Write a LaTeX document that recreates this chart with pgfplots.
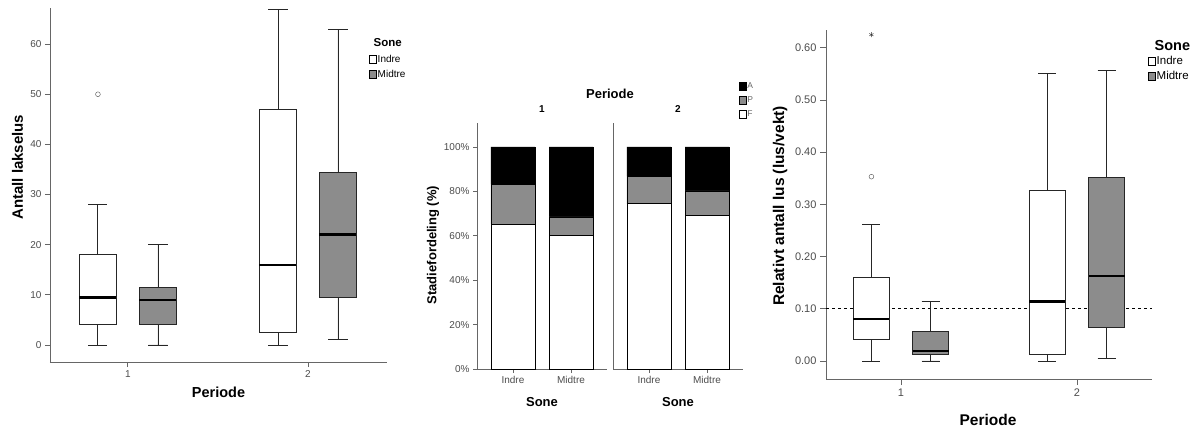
\documentclass[border=0pt]{standalone}
\usepackage{fontspec}
\setmainfont{Liberation Sans}
\usepackage{pgfplots}
\pgfplotsset{compat=1.18}
\usepgfplotslibrary{statistics}
\definecolor{boxgray}{gray}{0.55}
\definecolor{axgray}{gray}{0.4}
\pgfplotsset{
  spss/.style={
    scale only axis,
    axis lines=left,
    axis line style={-, draw=axgray, line width=0.9pt},
    tick align=outside,
    major tick length=5pt,
    every tick/.style={draw=axgray, line width=0.9pt},
    every tick label/.append style={text=black!70},
    /pgf/number format/assume math mode=true,
    clip=false,
    boxplot/draw direction=y,
  },
  bpw/.style={draw=black!85, line width=0.9pt, fill=white, solid,
     boxplot/draw direction=y,
     boxplot/every median/.style={draw=black, line width=2.4pt}},
  bpg/.style={bpw, fill=boxgray},
  legbox/.style={legend image code/.code={\draw[##1] (0pt,-4pt) rectangle (7pt,4pt);}},
}
\begin{document}
\begin{tikzpicture}
\path[use as bounding box] (0pt,0pt) rectangle (1203pt,-430pt);
% ---------------- Panel 1 ----------------
\begin{axis}[spss,
  at={(50pt,-362pt)}, anchor=south west,
  width=337pt, height=354pt,
  xmin=0.567, xmax=2.439, ymin=-3.4, ymax=67.2,
  xtick={1,2}, ytick={0,10,...,60},
  tick label style={font=\fontsize{10}{12}\selectfont},
  xlabel={Periode}, ylabel={Antall lakselus},
  xlabel style={at={(axis description cs:0.5,-0.085)}, anchor=center, font=\bfseries\fontsize{14.5}{16}\selectfont},
  ylabel style={at={(axis description cs:-0.0964,0.55)}, anchor=center, rotate=0, font=\bfseries\fontsize{15}{17}\selectfont},
  legend style={draw=none, fill=none, at={(axis description cs:0.947,0.916)}, anchor=north west,
    font=\fontsize{10}{12}\selectfont, inner sep=0pt, row sep=4.5pt, nodes={inner sep=1pt}},
  legend cell align=left,
]
\addlegendimage{empty legend}\addlegendentry{\hspace*{-4pt}\bfseries\fontsize{11.5}{13}\selectfont Sone\rule[-4pt]{0pt}{1pt}}
\addlegendimage{legbox, draw=black, fill=white}\addlegendentry{Indre}
\addlegendimage{legbox, draw=black, fill=boxgray}\addlegendentry{Midtre}
\addplot[bpw, boxplot prepared={draw position=0.8333, lower whisker=0, lower quartile=4, median=9.5, upper quartile=18, upper whisker=28, box extend=0.2056, whisker extend=0.106}] coordinates {};
\addplot[bpg, boxplot prepared={draw position=1.1667, lower whisker=0, lower quartile=4, median=9, upper quartile=11.5, upper whisker=20, box extend=0.2056, whisker extend=0.106}] coordinates {};
\addplot[bpw, boxplot prepared={draw position=1.8333, lower whisker=0, lower quartile=2.5, median=16, upper quartile=47, upper whisker=67, box extend=0.2056, whisker extend=0.106}] coordinates {};
\addplot[bpg, boxplot prepared={draw position=2.1667, lower whisker=1, lower quartile=9.5, median=22, upper quartile=34.5, upper whisker=63, box extend=0.2056, whisker extend=0.106}] coordinates {};
\addplot[only marks, mark=o, mark size=2.4pt, draw=black!70] coordinates {(0.8333,50)};
\end{axis}
% ---------------- Panel 2, facet 1 ----------------
\begin{axis}[spss,
  at={(477pt,-369pt)}, anchor=south west,
  width=130pt, height=246pt,
  ybar stacked, bar width=44pt,
  xmin=-0.62, xmax=1.62, ymin=0, ymax=110.8,
  xtick={0,1}, xticklabels={Indre,Midtre},
  ytick={0,20,40,60,80,100}, yticklabels={0\%,20\%,40\%,60\%,80\%,100\%},
  major tick length=4pt,
  tick label style={font=\fontsize{10}{12}\selectfont},
  xlabel={Sone}, ylabel={Stadiefordeling (\%)},
  xlabel style={at={(axis description cs:0.5,-0.134)}, anchor=center, font=\bfseries\fontsize{13}{15}\selectfont},
  ylabel style={at={(axis description cs:-0.338,0.504)}, anchor=center, font=\bfseries\fontsize{13}{15}\selectfont},
  title={1}, title style={at={(axis description cs:0.5,1.0325)}, anchor=center, font=\bfseries\fontsize{10}{12}\selectfont},
]
\addplot[fill=white, draw=black, line width=0.7pt] coordinates {(0,65.3) (1,60.0)};
\addplot[fill=boxgray, draw=black, line width=0.7pt] coordinates {(0,18.0) (1,8.5)};
\addplot[fill=black, draw=black, line width=0.7pt] coordinates {(0,16.7) (1,31.5)};
\end{axis}
% ---------------- Panel 2, facet 2 ----------------
\begin{axis}[spss,
  at={(613pt,-369pt)}, anchor=south west,
  width=130pt, height=246pt,
  ybar stacked, bar width=44pt,
  xmin=-0.62, xmax=1.62, ymin=0, ymax=110.8,
  xtick={0,1}, xticklabels={Indre,Midtre},
  ytick=\empty,
  major tick length=4pt,
  tick label style={font=\fontsize{10}{12}\selectfont},
  xlabel={Sone},
  xlabel style={at={(axis description cs:0.5,-0.134)}, anchor=center, font=\bfseries\fontsize{13}{15}\selectfont},
  title={2}, title style={at={(axis description cs:0.5,1.0325)}, anchor=center, font=\bfseries\fontsize{10}{12}\selectfont},
  legend style={draw=none, fill=none, at={(axis description cs:0.965,1.168)}, anchor=north west,
    font=\fontsize{8.5}{10}\selectfont, text=black!60, inner sep=0pt, row sep=4.5pt, nodes={inner sep=1pt}},
  legend cell align=left, reverse legend,
]
\addplot[fill=white, draw=black, line width=0.7pt, legbox] coordinates {(0,74.4) (1,69.3)};
\addlegendentry{F}
\addplot[fill=boxgray, draw=black, line width=0.7pt, legbox] coordinates {(0,12.5) (1,10.9)};
\addlegendentry{P}
\addplot[fill=black, draw=black, line width=0.7pt, legbox] coordinates {(0,13.1) (1,19.8)};
\addlegendentry{A}
\end{axis}
\node[font=\bfseries\fontsize{13}{15}\selectfont] at (610pt,-94pt) {Periode};
% ---------------- Panel 3 ----------------
\begin{axis}[spss,
  at={(826pt,-379pt)}, anchor=south west,
  width=326pt, height=349pt,
  xmin=0.574, xmax=2.426, ymin=-0.0345, ymax=0.634,
  xtick={1,2}, ytick={0,0.1,...,0.61},
  major tick length=6pt,
  yticklabel style={/pgf/number format/fixed, /pgf/number format/fixed zerofill, /pgf/number format/precision=2},
  tick label style={font=\fontsize{11}{13}\selectfont},
  xlabel={Periode}, ylabel={Relativt antall lus (lus/vekt)},
  xlabel style={at={(axis description cs:0.497,-0.117)}, anchor=center, font=\bfseries\fontsize{15.5}{17}\selectfont},
  ylabel style={at={(axis description cs:-0.141,0.496)}, anchor=center, font=\bfseries\fontsize{15.5}{17}\selectfont},
  legend style={draw=none, fill=none, at={(axis description cs:0.988,0.975)}, anchor=north west,
    font=\fontsize{11.5}{13}\selectfont, inner sep=0pt, row sep=3pt, nodes={inner sep=1pt}},
  legend cell align=left,
]
\addlegendimage{empty legend}\addlegendentry{\hspace*{-2pt}\bfseries\fontsize{14.5}{16}\selectfont Sone\rule[-5pt]{0pt}{1pt}}
\addlegendimage{legbox, draw=black, fill=white}\addlegendentry{Indre}
\addlegendimage{legbox, draw=black, fill=boxgray}\addlegendentry{Midtre}
\addplot[black, dashed, dash pattern=on 3pt off 3pt, line width=0.9pt] coordinates {(0.574,0.1) (2.426,0.1)};
\addplot[bpw, boxplot prepared={draw position=0.832, lower whisker=0, lower quartile=0.041, median=0.080, upper quartile=0.160, upper whisker=0.262, box extend=0.205, whisker extend=0.102}] coordinates {};
\addplot[bpg, boxplot prepared={draw position=1.168, lower whisker=0, lower quartile=0.012, median=0.019, upper quartile=0.057, upper whisker=0.114, box extend=0.205, whisker extend=0.102}] coordinates {};
\addplot[bpw, boxplot prepared={draw position=1.832, lower whisker=0, lower quartile=0.012, median=0.114, upper quartile=0.326, upper whisker=0.550, box extend=0.205, whisker extend=0.102}] coordinates {};
\addplot[bpg, boxplot prepared={draw position=2.168, lower whisker=0.004, lower quartile=0.065, median=0.163, upper quartile=0.352, upper whisker=0.557, box extend=0.205, whisker extend=0.102}] coordinates {};
\addplot[only marks, mark=o, mark size=2.4pt, draw=black!70] coordinates {(0.832,0.353)};
\addplot[only marks, mark=asterisk, mark size=2.5pt, draw=black!80] coordinates {(0.832,0.625)};
\end{axis}
\end{tikzpicture}
\end{document}
